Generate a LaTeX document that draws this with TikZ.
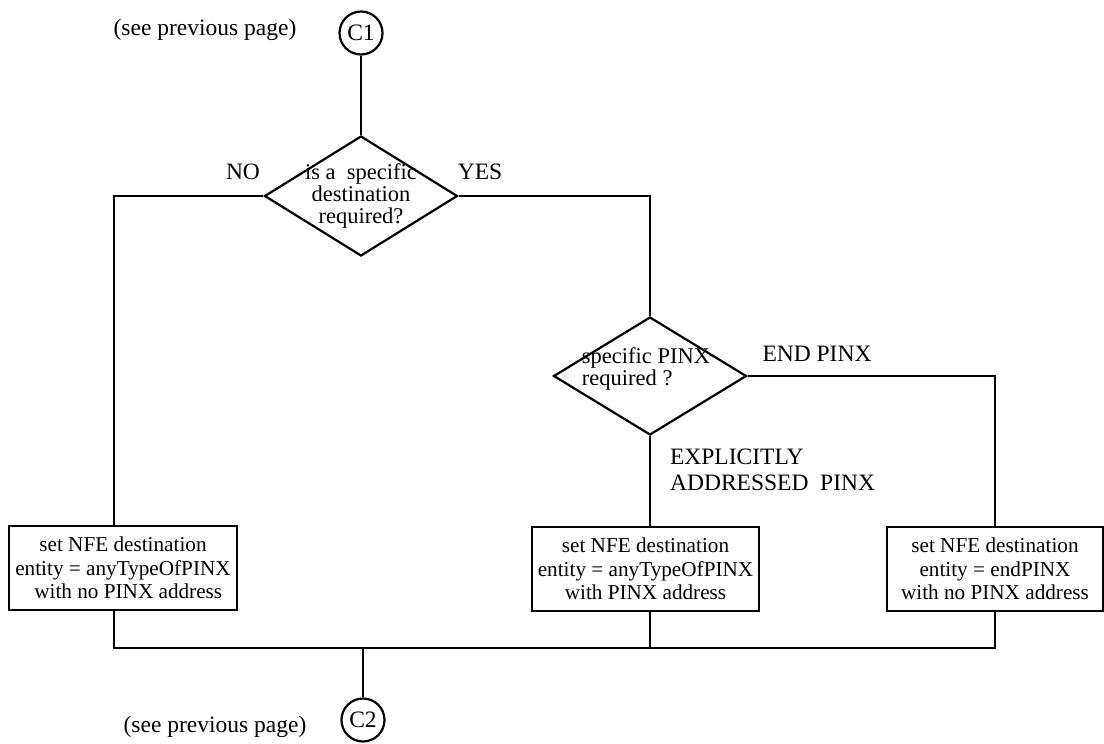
\documentclass[tikz,border=0pt]{standalone}
\usepackage{fontspec}
\setmainfont{Liberation Serif}
\usetikzlibrary{shapes.geometric}
\begin{document}
\begin{tikzpicture}[x=1pt,y=-1pt, line width=2.2pt,
  conn/.style={draw, circle, minimum size=43pt, inner sep=0pt, font=\fontsize{23.5}{26}\selectfont},
  lbl/.style={font=\fontsize{23.5}{26}\selectfont, inner sep=0pt},
  dec/.style={draw, diamond, minimum width=193pt, minimum height=120pt, inner sep=0pt},
  dtext/.style={font=\fontsize{22.5}{22}\selectfont, inner sep=0pt},
  proc/.style={draw, rectangle, minimum height=84pt, inner sep=0pt, align=center, font=\fontsize{21.2}{23.3}\selectfont}]
\useasboundingbox (0,0) rectangle (1104,744);

% connectors (page references)
\node[conn] (c1) at (361,33) {C1};
\node[lbl] (see1) at (205,30) {(see previous page)};
\node[conn] (c2) at (363,720) {C2};
\node[lbl] (see2) at (215,727) {(see previous page)};

% decisions
\node[dec, label={[dtext, align=center]center:is a\ \ specific\\destination\\required?}] (d1) at (361,196) {};
\node[dec, minimum height=118pt, label={[dtext, align=left, yshift=7pt, xshift=-4pt]center:specific PINX\\required ?}] (d2) at (650,376) {};

% branch labels
\node[lbl] (no) at (243,172) {NO};
\node[lbl] (yes) at (480,172) {YES};
\node[lbl] (endp) at (817,354) {END PINX};
\node[lbl, anchor=west, align=left] (expl) at (669,470) {EXPLICITLY\\ADDRESSED\ \ PINX};

% process boxes
\node[proc, minimum width=228pt] (b1) at (123,568) {set NFE destination\\entity = anyTypeOfPINX\\\ \ with no PINX address};
\node[proc, minimum width=227pt] (b2) at (645.5,569) {set NFE destination\\entity = anyTypeOfPINX\\with PINX address};
\node[proc, minimum width=216pt] (b3) at (995,569) {set NFE destination\\entity = endPINX\\with no PINX address};

% helper coordinates
\coordinate (k1) at (114,0);
\coordinate (jb) at (363,648);

% flow lines
\draw (c1) -- (d1.north);
\draw (d1.west) -| (b1.north -| k1);
\draw (d1.east) -| (d2.north);
\draw (d2.east) -| (b3.north);
\draw (d2.south) -- (b2.north -| d2.south);
\draw (b1.south -| k1) |- (jb) -| (b3.south);
\draw (b2.south -| d2.south) -- (jb -| d2.south);
\draw (jb) -- (c2);
\end{tikzpicture}
\end{document}
